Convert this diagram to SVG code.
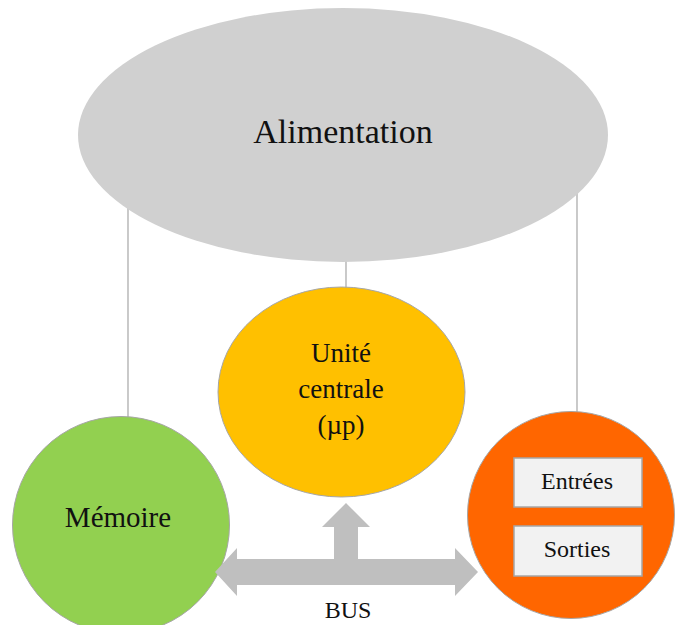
<svg xmlns="http://www.w3.org/2000/svg" width="675" height="625" viewBox="0 0 675 625">
  <style>
    .lbl { fill: #111; text-anchor: middle; }
    .link { stroke: #a6a6a6; stroke-width: 1.2; fill: none; }
    .box { fill: #f2f2f2; stroke: #a6a6a6; stroke-width: 1.5; }
  </style>
  <rect width="675" height="625" fill="#ffffff"/>

  <!-- supply lines from the power unit -->
  <g id="connectors">
    <line class="link" x1="128" y1="200" x2="128" y2="418"/>
    <line class="link" x1="346" y1="250" x2="346" y2="288"/>
    <line class="link" x1="577" y1="185" x2="577" y2="414"/>
  </g>

  <g font-family="'Liberation Serif', 'DejaVu Serif', serif">
    <g id="alimentation">
      <ellipse cx="343" cy="135" rx="265" ry="127" fill="#d0d0d0"/>
      <text class="lbl" x="343" y="143" font-size="34">Alimentation</text>
    </g>

    <g id="unite-centrale">
      <ellipse cx="341.5" cy="392" rx="123.5" ry="105" fill="#ffc000" stroke="#a6a6a6" stroke-width="1"/>
      <text class="lbl" x="341" y="362" font-size="27">Unité</text>
      <text class="lbl" x="341" y="398" font-size="27">centrale</text>
      <text class="lbl" x="341" y="434" font-size="27">(µp)</text>
    </g>

    <g id="memoire">
      <circle cx="121" cy="525" r="108.5" fill="#92d050" stroke="#a6a6a6" stroke-width="1"/>
      <text class="lbl" x="118" y="527" font-size="29">Mémoire</text>
    </g>

    <g id="entrees-sorties">
      <circle cx="571" cy="515" r="103.5" fill="#ff6600" stroke="#a6a6a6" stroke-width="1"/>
      <rect class="box" x="514" y="458" width="128" height="49"/>
      <text class="lbl" x="577" y="489" font-size="24">Entrées</text>
      <rect class="box" x="514" y="526" width="128" height="50"/>
      <text class="lbl" x="577" y="557" font-size="24">Sorties</text>
    </g>

    <g id="bus">
      <polygon fill="#bfbfbf" points="215,572 237,548 237,559 334,559 334,527 322,527 346,503 370,527 358,527 358,559 455,559 455,548 478,572 455,596 455,585 237,585 237,596"/>
      <text class="lbl" x="348" y="618" font-size="24">BUS</text>
    </g>
  </g>
</svg>
